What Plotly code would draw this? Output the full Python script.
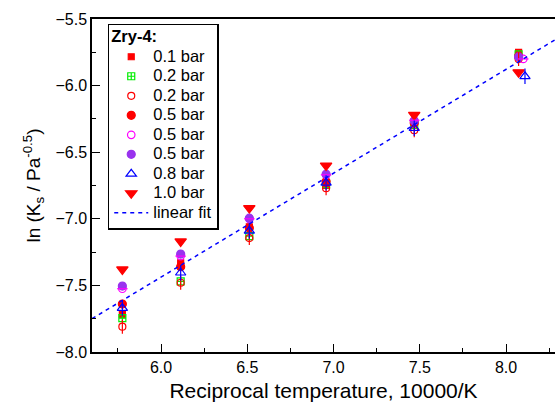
import plotly.graph_objects as go

# ---- data ----
x_groups = [5.776, 6.114, 6.512, 6.957, 7.468, 8.073]
x_last_shift = [5.776, 6.114, 6.512, 6.957, 7.468, 8.10]
x_last_shift2 = [5.776, 6.114, 6.512, 6.957, 7.468, 8.11]

y_01_sq = [-7.72, -7.33, -7.06, -6.75, -6.27, -5.75]
y_02_green = [-7.745, -7.47, -7.13, -6.74, -6.295, -5.765]
y_02_red = [-7.81, -7.48, -7.145, -6.77, -6.335, -5.80]
y_05_red = [-7.64, -7.36, -7.07, -6.72, -6.28, -5.78]
y_05_mag = [-7.525, -7.28, -7.0, -6.67, -6.26, -5.80]
y_05_pur = [-7.505, -7.265, -6.995, -6.665, -6.265, -5.785]
y_08_blue = [-7.67, -7.405, -7.09, -6.73, -6.32, -5.93]
y_10_red = [-7.38, -7.17, -6.92, -6.60, -6.22, -5.90]

fit_x = [5.6, 8.3]
fit_slope = 0.78
fit_intercept = -12.118

x_ticks = [6.0, 6.5, 7.0, 7.5, 8.0]
y_ticks = [-8.0, -7.5, -7.0, -6.5, -6.0, -5.5]

FONT = "Liberation Sans, Arial, sans-serif"
LS = 16.5  # legend text px


def lname(t):
    return f'<span style="font-size:{LS}px">{t}</span>'


fig = go.Figure()

def add(x, y, name, symbol, color, size, lw=1.2, show=True):
    fig.add_trace(go.Scatter(
        x=x, y=y, mode="markers", name=lname(name) if name else None,
        showlegend=show,
        marker=dict(symbol=symbol, color=color, size=size,
                    line=dict(color=color, width=lw))))

add(x_groups, y_01_sq, "0.1 bar", "square", "#FF0000", 6)
add(x_groups, y_02_green, "0.2 bar", "square-cross-open", "#00EE00", 7)
add(x_groups, y_02_red, "0.2 bar", "circle-open", "#FF0000", 7)
add(x_groups, y_05_red, "0.5 bar", "circle", "#FF0000", 8)
add(x_last_shift, y_05_mag, "0.5 bar", "circle-open", "#FF00FF", 7.5)
add(x_groups, y_05_pur, "0.5 bar", "circle", "#9933EE", 8)
add(x_last_shift2, y_08_blue, "0.8 bar", "triangle-up-open", "#0000FF", 9)
add(x_groups, y_10_red, "1.0 bar", "triangle-down", "#FF0000", 10)

# overlay strokes (phi / theta / arrow-like symbols)
add(x_groups, y_02_red, None, "line-ns", "#FF0000", 10, show=False)
add(x_last_shift, y_05_mag, None, "line-ew", "#FF00FF", 7.5, show=False)
add(x_last_shift2, y_08_blue, None, "line-ns", "#0000FF", 11, show=False)

fit_y = [fit_intercept + fit_slope * v for v in fit_x]
fig.add_trace(go.Scatter(
    x=fit_x, y=fit_y, mode="lines", name=lname("linear fit"),
    line=dict(color="#0000FF", width=1.5, dash="4px,4px")))

fig.update_layout(
    width=555, height=413,
    margin=dict(l=92, r=0, t=19, b=61),
    paper_bgcolor="white", plot_bgcolor="white",
    font=dict(family=FONT, color="black", size=16),
    legend=dict(
        x=0.034, y=0.985, xanchor="left", yanchor="top",
        bgcolor="white", bordercolor="black", borderwidth=1.5,
        font=dict(family=FONT, size=12.7, color="black"),
        title=dict(text=f'<b><span style="font-size:{LS}px">Zry-4:</span></b>',
                   font=dict(family=FONT, size=12.7)),
        itemwidth=34,
        tracegroupgap=0,
    ),
    xaxis=dict(
        range=[5.6, 8.284], tickvals=x_ticks, ticktext=[f"{v:.1f}" for v in x_ticks],
        ticks="inside", ticklen=8, tickwidth=1.2, tickcolor="black",
        showline=True, linecolor="black", linewidth=1.5, mirror=True,
        showgrid=False, zeroline=False,
        minor=dict(dtick=0.25, tick0=0, ticks="inside", ticklen=4, tickwidth=1.2, tickcolor="black"),
        tickfont=dict(size=16),
        title=dict(text="Reciprocal temperature, 10000/K", font=dict(size=21), standoff=8),
    ),
    yaxis=dict(
        range=[-8.0, -5.5], tickvals=y_ticks, ticktext=[f"\u2212{abs(v):.1f}" for v in y_ticks],
        ticks="inside", ticklen=8, tickwidth=1.2, tickcolor="black",
        showline=True, linecolor="black", linewidth=1.5, mirror=False,
        showgrid=False, zeroline=False,
        minor=dict(dtick=0.25, tick0=0, ticks="inside", ticklen=4, tickwidth=1.2, tickcolor="black"),
        tickfont=dict(size=16),
        title=dict(text="ln (K<sub>s</sub> / Pa<sup>-0.5</sup>)", font=dict(size=19), standoff=10),
    ),
)

fig.write_html("out.html")
